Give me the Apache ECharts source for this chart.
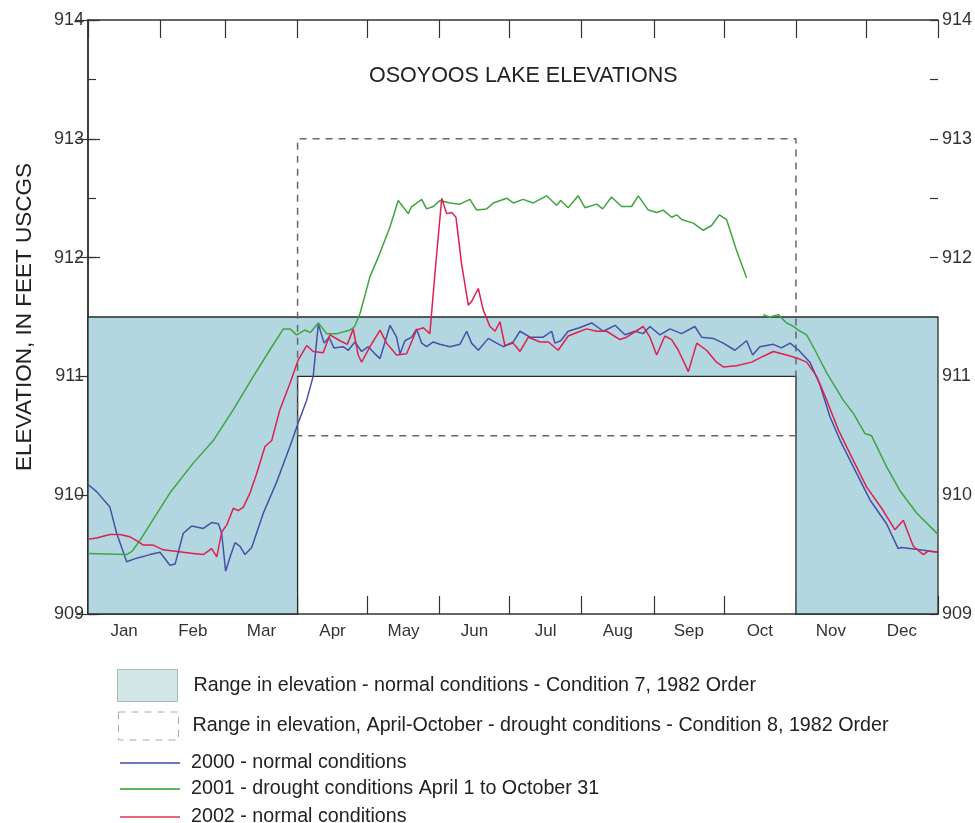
<!DOCTYPE html>
<html>
<head>
<meta charset="utf-8">
<script src="https://cdn.jsdelivr.net/npm/echarts@6/dist/echarts.min.js"></script>
<style>
html, body { margin: 0; padding: 0; background: #fff; }
#chart { width: 975px; height: 823px; }
</style>
</head>
<body>
<div id="chart"></div>
<script>
// day of year (0 = Jan 1) and lake elevation, feet USCGS
var days2000 = [0, 3.7, 9.4, 12.3, 16.6, 20.9, 26.6, 30.9, 35.2, 37.4, 40.9, 44.5, 49.5, 53.1, 56, 57.4, 59.1, 61, 63.1, 65.3, 67.4, 70.3, 75.3, 81, 86.7, 90.3, 93.9, 96.7, 98.9, 101.4, 103.5, 105.6, 109.6, 111.8, 114.6, 117.5, 120.4, 123.2, 125.4, 129.7, 132.5, 134, 136.1, 139, 141.1, 143.3, 145.4, 148.3, 151.1, 155.4, 159.7, 162.6, 164.7, 167.6, 171.9, 175.5, 178.3, 182.6, 185.5, 189.8, 195.5, 199.1, 200.5, 203, 206.2, 211, 216.3, 221.3, 226.3, 230.6, 234.9, 238.4, 241.3, 245.6, 249.9, 254.9, 260.6, 263.5, 268.5, 272.8, 277.8, 282.8, 285.4, 288.5, 294.3, 297.8, 301.5, 305.2, 310, 314.3, 318.6, 323, 328.6, 335.8, 342.9, 347.9, 349.3, 357.2, 365];
var elev2000 = [910.09, 910.03, 909.90, 909.68, 909.44, 909.47, 909.50, 909.52, 909.41, 909.42, 909.68, 909.74, 909.72, 909.77, 909.76, 909.68, 909.36, 909.48, 909.60, 909.57, 909.50, 909.56, 909.85, 910.11, 910.41, 910.61, 910.80, 911.00, 911.44, 911.28, 911.33, 911.24, 911.25, 911.22, 911.29, 911.21, 911.25, 911.19, 911.15, 911.43, 911.33, 911.19, 911.30, 911.33, 911.40, 911.28, 911.25, 911.29, 911.27, 911.25, 911.27, 911.38, 911.28, 911.22, 911.32, 911.28, 911.25, 911.29, 911.38, 911.33, 911.33, 911.38, 911.28, 911.30, 911.38, 911.41, 911.45, 911.38, 911.43, 911.35, 911.38, 911.36, 911.42, 911.35, 911.40, 911.36, 911.42, 911.33, 911.32, 911.28, 911.22, 911.30, 911.18, 911.25, 911.27, 911.24, 911.28, 911.22, 911.12, 910.93, 910.66, 910.46, 910.24, 909.96, 909.76, 909.55, 909.56, 909.54, 909.52];

var days2001 = [0, 16.6, 19, 22.3, 35.2, 45.2, 53.8, 62.4, 71, 78, 83.9, 86.7, 89.6, 93, 95.5, 98.9, 102.5, 107, 112.5, 114.5, 116.8, 121.1, 125.4, 129.7, 133.2, 137.5, 139, 143.3, 145.4, 148.3, 151.1, 155.4, 159.7, 164, 166.9, 171.2, 174, 179.8, 182.6, 186.9, 191.2, 196.9, 201.2, 203, 206.2, 210.5, 213.4, 218.4, 221, 224.8, 229.1, 231.3, 233.4, 236.3, 240.6, 244.2, 247, 250.6, 252.8, 254.9, 259.9, 264.2, 267.8, 271.1, 274.2, 278.5, 282.8, 286, 289.9, 292.8, 296.4, 300, 303, 305, 308.6, 312.2, 317.2, 324.3, 328.6, 333.6, 336.5, 342.9, 348.6, 355.8, 365];
var elev2001 = [909.51, 909.50, 909.53, 909.62, 910.02, 910.27, 910.46, 910.72, 911.00, 911.22, 911.40, 911.40, 911.35, 911.39, 911.37, 911.45, 911.36, 911.36, 911.39, 911.42, 911.53, 911.84, 912.04, 912.26, 912.48, 912.37, 912.43, 912.49, 912.41, 912.43, 912.48, 912.46, 912.45, 912.49, 912.40, 912.41, 912.46, 912.50, 912.46, 912.49, 912.46, 912.52, 912.44, 912.48, 912.42, 912.52, 912.42, 912.45, 912.41, 912.51, 912.43, 912.43, 912.43, 912.52, 912.40, 912.38, 912.40, 912.34, 912.36, 912.32, 912.29, 912.23, 912.27, 912.36, 912.32, 912.06, 911.83, null, 911.52, 911.50, 911.52, 911.45, 911.42, 911.39, 911.35, 911.22, 911.03, 910.80, 910.69, 910.52, 910.50, 910.24, 910.04, 909.85, 909.67];

var days2002 = [0, 3.7, 9.4, 13.7, 18, 21.6, 23.7, 28, 32.3, 36.6, 40.9, 45.2, 49.5, 53.1, 55.3, 57.4, 59.6, 62.4, 64.5, 66.7, 69.6, 72.4, 76, 78.9, 82.4, 86.7, 90.3, 93.9, 96.7, 101, 103.9, 108.2, 111.4, 113.9, 116, 117.5, 121.1, 125.4, 128.2, 132.5, 136.8, 141.1, 144, 146.8, 149, 151.9, 154, 156.2, 158, 160.4, 163.3, 164.7, 167.6, 169.7, 172.6, 174.8, 176.9, 179, 182.6, 185.5, 189.1, 194.1, 197.7, 201.9, 206.2, 210, 214.1, 218.4, 222.7, 228.4, 231.3, 238.4, 241.3, 244.2, 247.7, 250.6, 253.5, 257.8, 261.4, 265.6, 269.9, 272.8, 278.5, 285, 290, 294.3, 300, 305, 308.6, 312.9, 317.2, 322.2, 327.2, 334.3, 340.8, 346.5, 350.1, 354.4, 358.7, 360.8, 365];
var elev2002 = [909.63, 909.64, 909.67, 909.67, 909.65, 909.61, 909.58, 909.58, 909.54, 909.53, 909.52, 909.51, 909.50, 909.55, 909.48, 909.69, 909.75, 909.89, 909.87, 909.90, 910.02, 910.18, 910.41, 910.46, 910.72, 910.94, 911.14, 911.26, 911.21, 911.20, 911.35, 911.30, 911.27, 911.40, 911.18, 911.12, 911.25, 911.39, 911.28, 911.18, 911.19, 911.39, 911.41, 911.36, 911.87, 912.50, 912.37, 912.38, 912.34, 911.95, 911.60, 911.63, 911.74, 911.56, 911.42, 911.38, 911.46, 911.26, 911.28, 911.21, 911.33, 911.29, 911.29, 911.22, 911.34, 911.37, 911.40, 911.38, 911.38, 911.31, 911.33, 911.42, 911.33, 911.18, 911.34, 911.31, 911.22, 911.04, 911.28, 911.22, 911.12, 911.08, 911.09, 911.12, 911.17, 911.21, 911.18, 911.15, 911.12, 911.00, 910.80, 910.55, 910.35, 910.07, 909.89, 909.71, 909.79, 909.57, 909.50, 909.53, 909.52];

// Condition 7 (normal) range: lower edge steps, upper edge flat
var normalDays = [0, 90, 90, 304, 304, 365];
var normalLow = [909, 909, 911, 911, 909, 909];
var normalTop = 911.5;

// Condition 8 (drought) range, April-October
var droughtDays = [90, 304];
var droughtRange = [910.5, 913];

var monthNames = ["Jan", "Feb", "Mar", "Apr", "May", "Jun", "Jul", "Aug", "Sep", "Oct", "Nov", "Dec"];
var monthEdges = [0, 31, 59, 90, 120, 151, 181, 212, 243, 273, 304, 334, 365];
var monthMids = [15.5, 45, 74.5, 105, 135.5, 166, 196.5, 227.5, 258, 288.5, 319, 349.5];

var nameNormal = "Range in elevation - normal conditions - Condition 7, 1982 Order";
var nameDrought = "Range in elevation, April-October - drought conditions - Condition 8, 1982 Order";
var name2000 = "2000 - normal conditions";
var name2001 = "2001 - drought conditions April 1 to October 31";
var name2002 = "2002 - normal conditions";

function pairs(xs, ys) {
    return xs.map(function (x, i) { return [x, ys[i] === null ? "-" : ys[i]]; });
}

var boxData = [
    [droughtDays[0], droughtRange[0]],
    [droughtDays[0], droughtRange[1]],
    [droughtDays[1], droughtRange[1]],
    [droughtDays[1], droughtRange[0]],
    [droughtDays[0], droughtRange[0]]
];

var font = "Liberation Sans, Arial, sans-serif";
var axisCol = "#333";
var legendText = {fontSize: 19.7, color: "#222"};

function lineLegend(name, color, top) {
    return {
        left: 120, top: top, padding: 0, selectedMode: false,
        itemWidth: 60, itemHeight: 2,
        textStyle: Object.assign({lineHeight: 16, padding: [0, 0, 0, 6]}, legendText),
        data: [{name: name, icon: "rect", itemStyle: {color: color}}]
    };
}

// major (integer) ticks come from the labelled axes, half-foot ticks from these
function minorAxis(pos) {
    return {
        type: "value", min: 909, max: 914, interval: 0.5, position: pos,
        splitLine: {show: false},
        axisLine: {show: false},
        axisTick: {inside: true, length: 8, lineStyle: {color: axisCol, width: 1.2}},
        axisLabel: {show: false}
    };
}

var chart = echarts.init(document.getElementById("chart"));
var option = {
    animation: false,
    backgroundColor: "#fff",
    textStyle: {fontFamily: font},
    title: {
        text: "OSOYOOS LAKE ELEVATIONS",
        left: 369,
        top: 65,
        padding: 0,
        textStyle: {fontSize: 21.5, fontWeight: "normal", color: "#222", fontFamily: font}
    },
    grid: {left: 88, right: 37, top: 20, bottom: 209, outerBoundsMode: "none", containLabel: false},
    legend: [
        {
            left: 117, top: 669, padding: 0, selectedMode: false,
            itemWidth: 60, itemHeight: 32,
            textStyle: Object.assign({padding: [0, 0, 0, 11]}, legendText),
            data: [{name: nameNormal, icon: "rect",
                itemStyle: {color: "#d3e6e6", borderColor: "#a9b8b8", borderWidth: 1}}]
        },
        {
            left: 118, top: 710, padding: 0, selectedMode: false,
            itemWidth: 60, itemHeight: 28,
            textStyle: Object.assign({lineHeight: 20, padding: [0, 0, 12, 9]}, legendText),
            data: [{name: nameDrought, icon: "rect",
                itemStyle: {color: "rgba(255,255,255,0)", borderColor: "#aaa", borderWidth: 1, borderType: [7, 6]}}]
        },
        lineLegend(name2000, "#6f78bd", 753),
        lineLegend(name2001, "#5bb85b", 779),
        lineLegend(name2002, "#e8637f", 807)
    ],
    xAxis: [
        {
            type: "value", min: 0, max: 365, position: "bottom",
            splitLine: {show: false},
            axisLine: {lineStyle: {color: axisCol, width: 1.5}},
            axisTick: {inside: true, length: 18, customValues: monthEdges, lineStyle: {color: axisCol, width: 1.2}},
            axisLabel: {
                customValues: monthMids, margin: 9, fontSize: 17, color: "#333",
                formatter: function (v) { return monthNames[monthMids.indexOf(v)]; }
            }
        },
        {
            type: "value", min: 0, max: 365, position: "top",
            splitLine: {show: false},
            axisLine: {lineStyle: {color: axisCol, width: 1.5}},
            axisTick: {inside: true, length: 18, customValues: monthEdges, lineStyle: {color: axisCol, width: 1.2}},
            axisLabel: {show: false}
        }
    ],
    yAxis: [
        {
            type: "value", min: 909, max: 914, interval: 1, position: "left",
            name: "ELEVATION, IN FEET USCGS", nameLocation: "middle", nameGap: 52, nameRotate: 90,
            nameTextStyle: {fontSize: 22.5, color: "#222"},
            splitLine: {show: false},
            axisLine: {show: true, lineStyle: {color: axisCol, width: 1.5}},
            axisTick: {inside: true, length: 12, lineStyle: {color: axisCol, width: 1.2}},
            axisLabel: {fontSize: 18, color: "#333", margin: 4}
        },
        {
            type: "value", min: 909, max: 914, interval: 1, position: "right",
            splitLine: {show: false},
            axisLine: {show: true, lineStyle: {color: axisCol, width: 1.5}},
            axisTick: {inside: true, length: 12, lineStyle: {color: axisCol, width: 1.2}},
            axisLabel: {fontSize: 18, color: "#333", margin: 4}
        },
        minorAxis("left"),
        minorAxis("right")
    ],
    series: [
        {
            name: nameNormal,
            type: "custom",
            z: 1,
            itemStyle: {color: "#b3d7e1"},
            data: pairs(normalDays, normalLow),
            renderItem: function (params, api) {
                if (params.dataIndex !== 0) return null;
                var pts = [api.coord([normalDays[0], normalTop]), api.coord([normalDays[normalDays.length - 1], normalTop])];
                for (var i = normalDays.length - 1; i >= 0; i--) {
                    pts.push(api.coord([normalDays[i], normalLow[i]]));
                }
                return {
                    type: "polygon",
                    shape: {points: pts},
                    style: {fill: "#b3d7e1", stroke: "#2a2a2a", lineWidth: 1.3}
                };
            }
        },
        {
            name: nameDrought,
            type: "line",
            z: 2,
            showSymbol: false,
            data: boxData,
            lineStyle: {color: "#666", width: 1.5, type: [7, 6]},
            itemStyle: {color: "#666"}
        },
        {
            name: name2000, type: "line", z: 3, showSymbol: false,
            data: pairs(days2000, elev2000),
            lineStyle: {color: "#4750a5", width: 1.5},
            itemStyle: {color: "#4750a5"}
        },
        {
            name: name2001, type: "line", z: 3, showSymbol: false,
            data: pairs(days2001, elev2001),
            lineStyle: {color: "#3ea53e", width: 1.5},
            itemStyle: {color: "#3ea53e"}
        },
        {
            name: name2002, type: "line", z: 3, showSymbol: false,
            data: pairs(days2002, elev2002),
            lineStyle: {color: "#df1f4f", width: 1.5},
            itemStyle: {color: "#df1f4f"}
        }
    ]
};
chart.setOption(option);
</script>
</body>
</html>
